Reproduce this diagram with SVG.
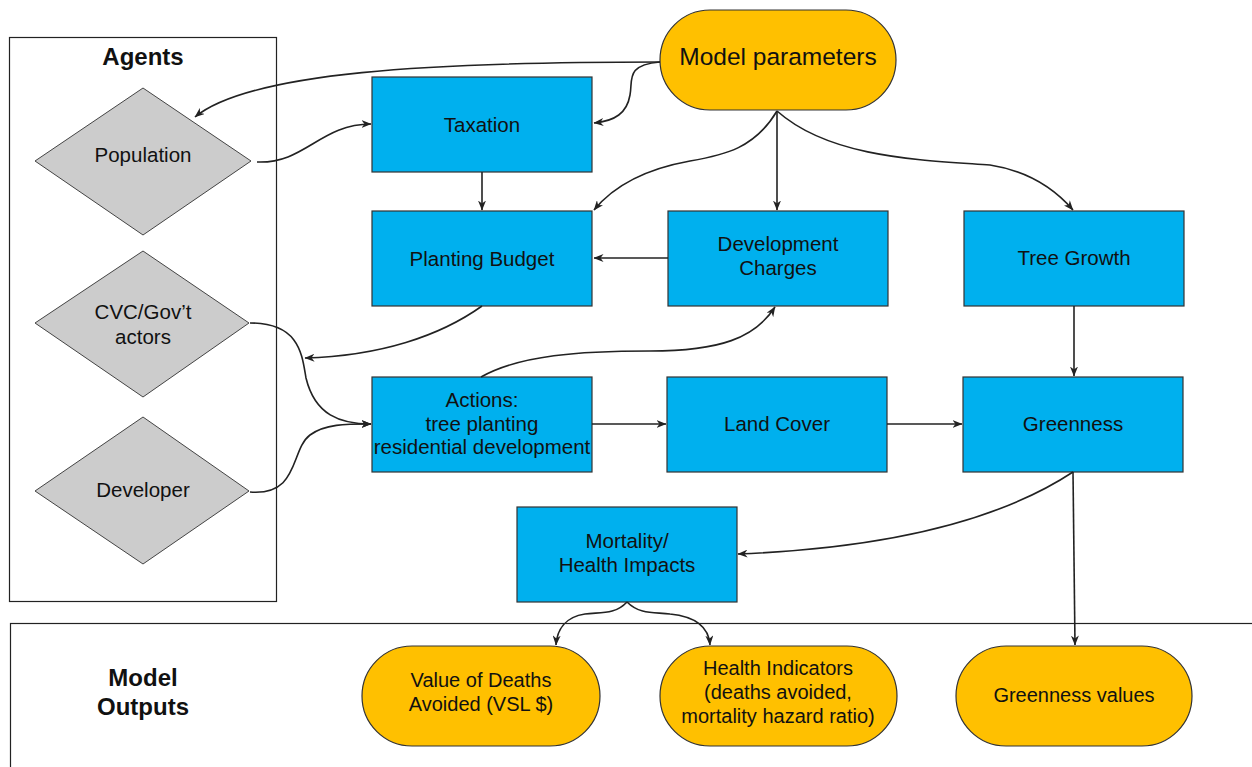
<svg xmlns="http://www.w3.org/2000/svg" width="1252" height="767" viewBox="0 0 1252 767">
<defs>
<marker id="ah" viewBox="0 0 10 8" refX="9.5" refY="4" markerWidth="10" markerHeight="8" markerUnits="userSpaceOnUse" orient="auto">
<path d="M0,0 L10,4 L0,8 L3,4 z" fill="#222"/>
</marker>
<style>
text{font-family:"Liberation Sans",Arial,sans-serif;fill:#111;text-anchor:middle;}
.box{fill:#00B0EE;stroke:#333;stroke-width:1.2;}
.dia{fill:#CCCCCC;stroke:#444;stroke-width:1;}
.pill{fill:#FFC000;stroke:#333;stroke-width:1.2;}
.frame{fill:none;stroke:#222;stroke-width:1.2;}
.lbl{font-size:20.5px;}
.out{font-size:20px;}
.title{font-size:24px;font-weight:bold;}
#connectors path{fill:none;stroke:#222;stroke-width:1.6;marker-end:url(#ah);}
</style>
</defs>
<rect width="1252" height="767" fill="#fff"/>

<g id="agents-frame">
<rect class="frame" x="9.5" y="37.5" width="267" height="564"/>
<text class="title" x="143" y="65">Agents</text>
</g>
<g id="outputs-frame">
<rect class="frame" x="10.5" y="623.5" width="1260" height="200"/>
<text class="title" x="143" y="686">Model</text>
<text class="title" x="143" y="715">Outputs</text>
</g>

<g id="population"><polygon class="dia" points="143,88 251,161 143,235 35,161"/><text class="lbl" x="143" y="162">Population</text></g>
<g id="cvc"><polygon class="dia" points="143,251 249,323 143,397 35,323"/><text class="lbl" x="143" y="319">CVC/Gov’t</text><text class="lbl" x="143" y="344">actors</text></g>
<g id="developer"><polygon class="dia" points="143,417 249,491 143,564 35,491"/><text class="lbl" x="143" y="497">Developer</text></g>

<g id="model-parameters"><rect class="pill" x="660" y="10" width="236" height="100" rx="50" ry="50"/><text x="778" y="65" font-size="24.5">Model parameters</text></g>

<g id="taxation"><rect class="box" x="372" y="77" width="220" height="95"/><text class="lbl" x="482" y="132">Taxation</text></g>
<g id="planting-budget"><rect class="box" x="372" y="211" width="220" height="95"/><text class="lbl" x="482" y="266">Planting Budget</text></g>
<g id="development-charges"><rect class="box" x="668" y="211" width="220" height="95"/><text class="lbl" x="778" y="251">Development</text><text class="lbl" x="778" y="275">Charges</text></g>
<g id="tree-growth"><rect class="box" x="964" y="211" width="220" height="95"/><text class="lbl" x="1074" y="265">Tree Growth</text></g>
<g id="actions"><rect class="box" x="372" y="377" width="220" height="95"/><text class="lbl" x="482" y="407">Actions:</text><text class="lbl" x="482" y="431">tree planting</text><text class="lbl" x="482" y="454">residential development</text></g>
<g id="land-cover"><rect class="box" x="667" y="377" width="220" height="95"/><text class="lbl" x="777" y="431">Land Cover</text></g>
<g id="greenness"><rect class="box" x="963" y="377" width="220" height="95"/><text class="lbl" x="1073" y="431">Greenness</text></g>
<g id="mortality"><rect class="box" x="517" y="507" width="220" height="95"/><text class="lbl" x="627" y="548">Mortality/</text><text class="lbl" x="627" y="572">Health Impacts</text></g>

<g id="value-of-deaths"><rect class="pill" x="362" y="646" width="238" height="100" rx="50" ry="50"/><text class="out" x="481" y="687">Value of Deaths</text><text class="out" x="481" y="711">Avoided (VSL $)</text></g>
<g id="health-indicators"><rect class="pill" x="660" y="646" width="237" height="100" rx="50" ry="50"/><text class="out" x="778" y="675">Health Indicators</text><text class="out" x="778" y="699">(deaths avoided,</text><text class="out" x="778" y="723">mortality hazard ratio)</text></g>
<g id="greenness-values"><rect class="pill" x="956" y="646" width="236" height="100" rx="50" ry="50"/><text class="out" x="1074" y="702">Greenness values</text></g>

<g id="connectors">
<path d="M660,62 C 430,62 250,72 195,117"/>
<path d="M660,62 C 625,65 633,80 630,95 C 627,113 615,121 594,123"/>
<path d="M257,162 C 305,164 320,124 371,124"/>
<path d="M482,172 L482,210"/>
<path d="M777,111 C 755,148 725,155 690,161 C 640,170 612,188 594,210"/>
<path d="M777,111 L777,210"/>
<path d="M777,111 C 830,158 920,160 990,165 C 1035,172 1060,195 1073,210"/>
<path d="M668,258 L594,258"/>
<path d="M482,306 C 440,336 380,356 305,358"/>
<path d="M250,323 C 300,323 302,355 306,378 C 315,415 340,424 371,424"/>
<path d="M250,492 C 300,496 290,450 310,435 C 325,424 345,424 371,424"/>
<path d="M481,377 C 520,355 580,351 650,351 C 720,351 755,338 775,307"/>
<path d="M592,424 L666,424"/>
<path d="M887,424 L962,424"/>
<path d="M1074,306 L1074,376"/>
<path d="M1073,472 C 1000,520 890,548 738,554"/>
<path d="M1073,472 L1075,645"/>
<path d="M627,602 C 615,615 600,612 585,614 C 565,617 557,630 556,645"/>
<path d="M627,602 C 640,615 655,612 670,614 C 700,617 709,630 710,645"/>
</g>
</svg>
